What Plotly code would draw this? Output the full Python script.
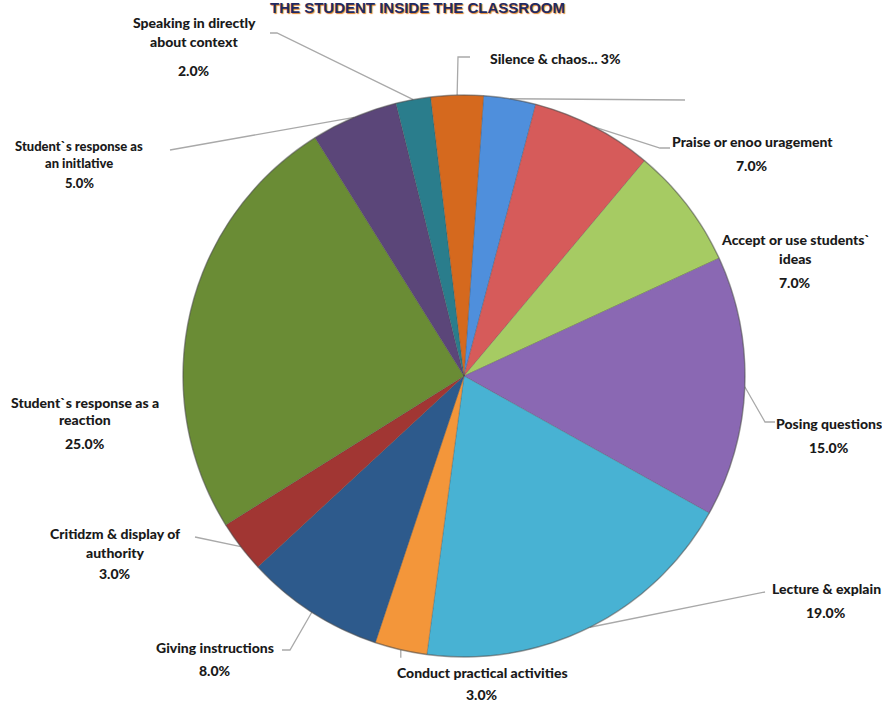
import math
import plotly.graph_objects as go

# Classroom interaction categories, listed clockwise from the top of the pie
categories = [
    "Other",
    "Praise or enoo uragement",
    "Accept or use students` ideas",
    "Posing questions",
    "Lecture & explain",
    "Conduct practical activities",
    "Giving instructions",
    "Critidzm & display of authority",
    "Student`s response as a reaction",
    "Student`s response as an initlative",
    "Speaking in directly about context",
    "Silence & chaos",
]
shares = [3, 7, 7, 15, 19, 3, 8, 3, 25, 5, 2, 3]

# Text lines drawn for each slice label (empty = no label)
label_lines = [
    [],
    ["Praise or enoo uragement"],
    ["Accept or use students`", "ideas"],
    ["Posing questions"],
    ["Lecture & explain"],
    ["Conduct practical activities"],
    ["Giving instructions"],
    ["Critidzm & display of", "authority"],
    ["Student`s response as a", "reaction"],
    ["Student`s response as", "an initlative"],
    ["Speaking in directly", "about context"],
    ["Silence & chaos..."],
]

colors = [
    "#4f8fdc", "#d65b5a", "#a6cb63", "#8a68b3", "#48b2d3", "#f3963a",
    "#2d5a8c", "#a13633", "#6a8c35", "#5b4679", "#2a7d8c", "#d5691e",
]

title_text = "THE STUDENT INSIDE THE CLASSROOM"

# ---- page geometry (pixels, origin top-left) ----
W, H = 882, 702
CX, CY, R = 464, 376, 281
ROTATION = 4

# label placement: centre x, y of each text line, y of the percent line
label_pos = [
    None,
    (752, [141], 165),
    (795, [239, 258], 282),
    (829, [423], 447),
    (826, [588], 612),
    (482, [672], 694),
    (215, [647], 670),
    (115, [533, 552], 573),
    (85, [402, 419], 443),
    (79, [146, 163], 183),
    (194, [22, 41], 70),
    (555, [58], None),
]
label_size = [14, 14, 14, 14, 14, 14, 14, 14, 14, 13, 14, 14]

# leader line bends, from the slice edge outward (None = no leader)
leader_bends = [
    [(685, 100)],
    [(660, 148), (670, 148)],
    None,
    [(765, 422), (775, 422)],
    [(765, 592)],
    "down",
    [(290, 650), (282, 650)],
    [(195, 537)],
    None,
    [(170, 150)],
    [(277, 33), (270, 33)],
    [(458, 57), (470, 57)],
]

fig = go.Figure()

fig.add_trace(go.Pie(
    labels=categories,
    values=shares,
    sort=False,
    direction="clockwise",
    rotation=ROTATION,
    marker=dict(colors=colors, line=dict(color="rgba(70,70,70,0.35)", width=0.8)),
    textinfo="none",
    hoverinfo="label+percent",
    showlegend=False,
    domain=dict(x=[(CX - R) / W, (CX + R) / W],
                y=[(H - CY - R) / H, (H - CY + R) / H]),
))

# slice mid-angles (clockwise from 12 o'clock) from the values
total = sum(shares)
mids = []
acc = 0
for v in shares:
    mids.append(ROTATION + (acc + v / 2) / total * 360)
    acc += v


def edge_point(angle_deg):
    a = math.radians(angle_deg)
    return CX + R * math.sin(a), CY - R * math.cos(a)


for i, bends in enumerate(leader_bends):
    if bends is None:
        continue
    px, py = edge_point(mids[i])
    if bends == "down":
        pts = [(px, py), (px, py + 8)]
    else:
        pts = [(px, py)] + list(bends)
    fig.add_trace(go.Scatter(
        x=[p[0] for p in pts], y=[p[1] for p in pts],
        mode="lines", line=dict(color="#a9a9a9", width=1.3),
        hoverinfo="skip", showlegend=False,
    ))

# outer rim of the pie
fig.add_shape(type="circle", xref="x", yref="y",
              x0=CX - R, x1=CX + R, y0=CY - R, y1=CY + R,
              line=dict(color="rgba(80,80,80,0.45)", width=1.5),
              layer="above")

label_font = dict(family="Lato", weight=900, color="#1a1a1a")
for i, pos in enumerate(label_pos):
    if pos is None:
        continue
    x, ys, pct_y = pos
    lines = list(label_lines[i])
    if pct_y is None:
        lines[-1] = f"{lines[-1]} {shares[i]:.0f}%"
    for txt, y in zip(lines, ys):
        fig.add_annotation(x=x, y=y, xref="x", yref="y", text=txt,
                           showarrow=False, xanchor="center", yanchor="middle",
                           font=dict(label_font, size=label_size[i]))
    if pct_y is not None:
        fig.add_annotation(x=x, y=pct_y, xref="x", yref="y",
                           text=f"{shares[i]:.1f}%",
                           showarrow=False, xanchor="center", yanchor="middle",
                           font=dict(label_font, size=label_size[i]))

fig.add_annotation(x=417, y=7, xref="x", yref="y", text=f"<b>{title_text}</b>",
                   showarrow=False, xanchor="center", yanchor="middle",
                   font=dict(family="Liberation Sans", size=15, color="#1f2a63",
                             shadow="1px 1px 1px #e0802a"))

fig.update_layout(
    width=W, height=H,
    margin=dict(l=0, r=0, t=0, b=0),
    paper_bgcolor="white", plot_bgcolor="white",
    xaxis=dict(range=[0, W], visible=False, domain=[0, 1], fixedrange=True),
    yaxis=dict(range=[H, 0], visible=False, domain=[0, 1], fixedrange=True),
)

fig.write_html("out.html")
